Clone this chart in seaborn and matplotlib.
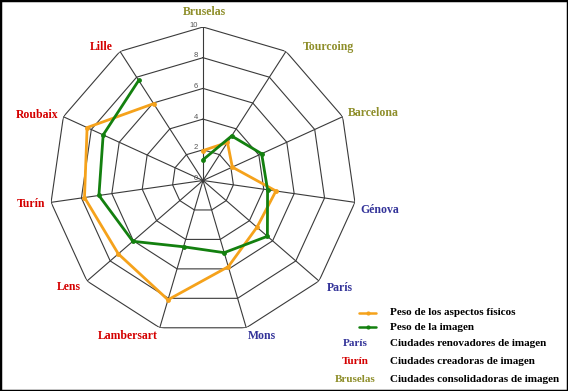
import numpy as np
import pandas as pd
import matplotlib
matplotlib.use("Agg")
import matplotlib.pyplot as plt
import seaborn as sns
from matplotlib.lines import Line2D
from matplotlib.patches import Rectangle

sns.set_style("white")

# --- data ---
cities = ["Bruselas", "Tourcoing", "Barcelona", "Génova", "París", "Mons",
          "Lambersart", "Lens", "Turín", "Roubaix", "Lille"]
city_group = ["consolidadora", "consolidadora", "consolidadora",
              "renovadora", "renovadora", "renovadora",
              "creadora", "creadora", "creadora", "creadora", "creadora"]
peso_fisicos = [1.95, 2.95, 2.1, 4.8, 4.65, 5.85, 8.1, 7.3, 7.8, 8.3, 5.95]
peso_imagen = [1.35, 3.45, 4.2, 4.25, 5.55, 4.9, 4.5, 6.05, 6.85, 7.15, 7.75]
rings = [2, 4, 6, 8, 10]

group_colors = {"renovadora": "#333399", "creadora": "#D40000",
                "consolidadora": "#8E8E2A"}
ORANGE = "#F5A21B"
GREEN = "#13800F"
W, H = 568, 391

# label placement relative to each outer vertex (pixels, y down) + alignment
label_offsets = [(1, -15, "center"), (17, -4, "left"), (5, -4, "left"),
                 (5, 8, "left"), (8, 7, "left"), (2, 8, "left"),
                 (-2, 8, "right"), (-6, 6, "right"), (-6, 2, "right"),
                 (-5, -2, "right"), (-7, -4, "right")]

n = len(cities)
theta = np.linspace(0, 2 * np.pi, n, endpoint=False)
theta_closed = np.append(theta, theta[0])

df = pd.concat([
    pd.DataFrame({"theta": theta_closed, "valor": peso_fisicos + peso_fisicos[:1],
                  "serie": "Peso de los aspectos físicos"}),
    pd.DataFrame({"theta": theta_closed, "valor": peso_imagen + peso_imagen[:1],
                  "serie": "Peso de la imagen"}),
])

fig = plt.figure(figsize=(W / 100, H / 100), dpi=100)
fig.patch.set_facecolor("white")

cx, cy, R = 203, 180.5, 153.5
ax = fig.add_axes([(cx - R) / W, 1 - (cy + R) / H, 2 * R / W, 2 * R / H],
                  projection="polar")
ax.set_theta_zero_location("N")
ax.set_theta_direction(-1)
ax.set_ylim(0, 10)
ax.grid(False)
ax.spines["polar"].set_visible(False)
ax.set_xticks([])
ax.set_yticks([])
ax.set_facecolor("none")

# polygon grid
for r in rings:
    ax.plot(theta_closed, [r] * (n + 1), color="#3a3a3a", lw=0.8, zorder=1)
for t in theta:
    ax.plot([t, t], [0, 10], color="#3a3a3a", lw=0.8, zorder=1)

# ring labels along the top spoke
for r in [0] + rings:
    ax.annotate(str(r), xy=(0, r), xytext=(-5, 2), textcoords="offset pixels",
                ha="right", va="center", fontsize=5.5, color="#555555",
                family="Liberation Sans")

sns.lineplot(data=df, x="theta", y="valor", hue="serie", sort=False,
             palette={"Peso de los aspectos físicos": ORANGE,
                      "Peso de la imagen": GREEN},
             marker="o", markersize=3.5, markeredgewidth=0, lw=2,
             legend=False, ax=ax, zorder=3)
ax.set_xlabel("")
ax.set_ylabel("")

# city labels
for t, name, grp, (dx, dy, ha) in zip(theta, cities, city_group, label_offsets):
    ax.annotate(name, xy=(t, 10), xytext=(dx, -dy),
                textcoords="offset pixels", ha=ha, va="center",
                fontsize=8.5, fontweight="bold", family="Liberation Serif",
                color=group_colors[grp])


def fx(x, y):
    return x / W, 1 - y / H


# legend
for y, col, label in [(312.5, ORANGE, "Peso de los aspectos físicos"),
                      (327, GREEN, "Peso de la imagen")]:
    x0, yy = fx(359, y)
    x1, _ = fx(376, y)
    fig.add_artist(Line2D([x0, x1], [yy, yy], color=col, lw=1.8,
                          transform=fig.transFigure))
    fig.add_artist(Line2D([(x0 + x1) / 2], [yy], color=col, marker="o",
                          markersize=3, markeredgewidth=0,
                          transform=fig.transFigure))
    fig.text(*fx(390, y), label, ha="left", va="center", fontsize=8,
             fontweight="bold", family="Liberation Serif", color="black")

for y, key, grp, label in [(343.5, "París", "renovadora", "Ciudades renovadores de imagen"),
                           (361.5, "Turín", "creadora", "Ciudades creadoras de imagen"),
                           (380, "Bruselas", "consolidadora", "Ciudades consolidadoras de imagen")]:
    fig.text(*fx(355, y), key, ha="center", va="center", fontsize=8,
             fontweight="bold", family="Liberation Serif", color=group_colors[grp])
    fig.text(*fx(390, y), label, ha="left", va="center", fontsize=8,
             fontweight="bold", family="Liberation Serif", color="black")

fig.add_artist(Rectangle((0, 0), 1, 1, transform=fig.transFigure, fill=False,
                         edgecolor="black", lw=2.5))

fig.savefig("out.png", dpi=100)
